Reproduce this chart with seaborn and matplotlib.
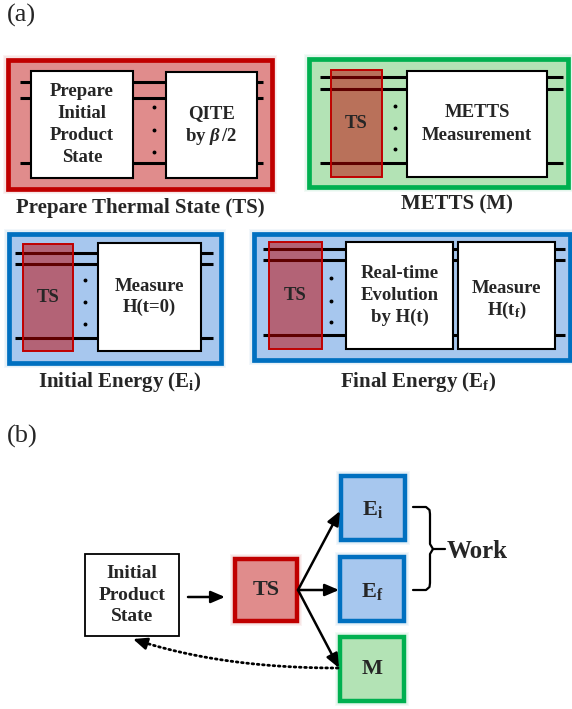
import matplotlib
matplotlib.use("Agg")
import matplotlib.pyplot as plt
import seaborn as sns
import numpy as np
from matplotlib.patches import Rectangle

sns.set_theme(style="white")
plt.rcParams["font.family"] = ["Liberation Serif", "DejaVu Serif"]
plt.rcParams["mathtext.fontset"] = "custom"
plt.rcParams["mathtext.rm"] = "Liberation Serif:bold"
plt.rcParams["mathtext.it"] = "Liberation Serif:bold:italic"
plt.rcParams["mathtext.bf"] = "Liberation Serif:bold"

# ---------------- content ----------------
panel_labels = ["(a)", "(b)"]
panel_a_titles = ["Prepare Thermal State (TS)", "METTS (M)",
                  r"Initial Energy ($\mathrm{E_i}$)", r"Final Energy ($\mathrm{E_f}$)"]
ts_gates = ["Prepare\nInitial\nProduct\nState", "QITE\nby $\\beta\\,/2$"]
metts_gates = ["METTS\nMeasurement"]
ei_gates = ["Measure\nH(t=0)"]
ef_gates = ["Real-time\nEvolution\nby H(t)", r"Measure" + "\n" + r"H(t$_\mathrm{f}$)"]
overlay_label = "TS"
flow_nodes = ["Initial\nProduct\nState", "TS", r"$\mathrm{E_i}$", r"$\mathrm{E_f}$", "M"]
work_label = "Work"

RED_EDGE, RED_FILL = "#C00000", "#E08C8C"
GREEN_EDGE, GREEN_FILL = "#00B050", "#B3E3B5"
BLUE_EDGE, BLUE_FILL = "#0070C0", "#A7C7EE"
OVERLAY_FILL = (0.75, 0.0, 0.0, 0.5)

fig = plt.figure(figsize=(5.72, 7.09), dpi=100)
ax = fig.add_axes([0, 0, 1, 1])
ax.set_xlim(0, 572)
ax.set_ylim(709, 0)
ax.axis("off")


def outer_box(x0, y0, x1, y1, edge, fill, lw=3.4, glow=True):
    if glow:
        for i in range(1, 5):
            ax.add_patch(Rectangle((x0 - 1.2 * i, y0 - 1.2 * i), x1 - x0 + 2.4 * i,
                                   y1 - y0 + 2.4 * i, facecolor=edge, edgecolor="none",
                                   alpha=0.05, zorder=0.5))
    ax.add_patch(Rectangle((x0, y0), x1 - x0, y1 - y0, facecolor=fill,
                           edgecolor=edge, lw=lw, zorder=1))


def wires(x0, x1, ys):
    for y in ys:
        ax.plot([x0, x1], [y, y], color="black", lw=2.2, solid_capstyle="butt", zorder=2)


def dots(x, ys):
    ax.plot([x] * len(ys), ys, "o", ms=1.8, color="black", zorder=2)


def gate(x0, y0, x1, y1, label, fs=13.5, ls=1.2, lw=1.5, dy=0):
    ax.add_patch(Rectangle((x0, y0), x1 - x0, y1 - y0, facecolor="white",
                           edgecolor="black", lw=lw, zorder=3))
    ax.text((x0 + x1) / 2, (y0 + y1) / 2 + dy, label, ha="center", va="center",
            fontsize=fs, fontweight="bold", linespacing=ls, zorder=4)


def overlay(x0, y0, x1, y1):
    ax.add_patch(Rectangle((x0, y0), x1 - x0, y1 - y0, facecolor=OVERLAY_FILL,
                           edgecolor=RED_EDGE, lw=1.4, zorder=5))
    ax.text((x0 + x1) / 2, (y0 + y1) / 2, overlay_label, ha="center", va="center",
            fontsize=13.5, fontweight="bold", zorder=6)


TITLE_FS = 15

# panel labels
ax.text(7, 15, panel_labels[0], fontsize=19, ha="left", va="center")
ax.text(7, 436, panel_labels[1], fontsize=19, ha="left", va="center")

# ---- TS panel ----
outer_box(8, 60, 272, 189, RED_EDGE, RED_FILL)
wires(20, 263, [82, 98, 163])
dots(154, [107, 130, 152])
gate(31, 71, 133, 178, ts_gates[0], ls=1.38)
gate(166, 72, 257, 178, ts_gates[1], ls=1.3, dy=1)
ax.text(140, 208, panel_a_titles[0], ha="center", va="center", fontsize=TITLE_FS, fontweight="bold")

# ---- METTS panel ----
outer_box(309, 59, 568, 187, GREEN_EDGE, GREEN_FILL)
wires(320, 563, [77, 89, 163])
dots(395, [106, 128, 149])
gate(407, 71, 547, 177, metts_gates[0], ls=1.4)
overlay(331, 70, 382, 177)
ax.text(457, 204, panel_a_titles[1], ha="center", va="center", fontsize=TITLE_FS, fontweight="bold")

# ---- Initial energy panel ----
outer_box(9, 234, 221, 363, BLUE_EDGE, BLUE_FILL)
wires(15, 213, [253, 264, 338])
dots(85, [280, 302, 324])
gate(98, 243, 201, 351, ei_gates[0], ls=1.22)
overlay(23, 244, 73, 351)
ax.text(120, 382, panel_a_titles[2], ha="center", va="center", fontsize=TITLE_FS, fontweight="bold")

# ---- Final energy panel ----
outer_box(254, 234, 570, 360, BLUE_EDGE, BLUE_FILL)
wires(263, 565, [249, 260, 335])
dots(331, [278, 301, 322])
gate(346, 242, 453, 349, ef_gates[0], ls=1.4)
gate(458, 242, 555, 349, ef_gates[1], ls=1.25, dy=5)
overlay(269, 242, 322, 349)
ax.text(418, 382, panel_a_titles[3], ha="center", va="center", fontsize=TITLE_FS, fontweight="bold")

# ---------------- panel (b) ----------------
gate(85, 554, 179, 636, flow_nodes[0], fs=14, ls=1.32, lw=1.3)
outer_box(235, 559, 297, 621, RED_EDGE, RED_FILL, lw=3.2)
ax.text(266, 590, flow_nodes[1], ha="center", va="center", fontsize=16, fontweight="bold", zorder=4)
outer_box(341, 476, 405, 540, BLUE_EDGE, BLUE_FILL, lw=3.2)
ax.text(373, 510, flow_nodes[2], ha="center", va="center", fontsize=16, zorder=4)
outer_box(340, 557, 404, 621, BLUE_EDGE, BLUE_FILL, lw=3.2)
ax.text(372, 591, flow_nodes[3], ha="center", va="center", fontsize=16, zorder=4)
outer_box(340, 637, 404, 701, GREEN_EDGE, GREEN_FILL, lw=3.2)
ax.text(372, 669, flow_nodes[4], ha="center", va="center", fontsize=16, fontweight="bold", zorder=4)

arrow_kw = dict(arrowstyle="-|>,head_length=0.7,head_width=0.3", color="black",
                lw=1.8, shrinkA=0, shrinkB=0)
ax.annotate("", xy=(225, 597), xytext=(188, 597), arrowprops=arrow_kw)
for tgt in [(340, 511), (339, 590), (339, 668)]:
    ax.annotate("", xy=tgt, xytext=(298, 590), arrowprops=arrow_kw)

# dotted return path (quadratic Bezier) with a solid arrow head
p0, p1, p2 = np.array([338.0, 668.0]), np.array([220.0, 668.0]), np.array([133.0, 639.0])
t = np.linspace(0, 0.93, 80)[:, None]
curve = (1 - t) ** 2 * p0 + 2 * (1 - t) * t * p1 + t ** 2 * p2
ax.plot(curve[:, 0], curve[:, 1], color="black", lw=2.0, linestyle=(0, (0.6, 1.3)),
        dash_capstyle="round")
tan = (p2 - p1) / np.linalg.norm(p2 - p1)
ax.annotate("", xy=tuple(p2), xytext=tuple(p2 - 11 * tan), arrowprops=arrow_kw)

# brace
ax.plot([413, 426, 429.5, 430, 430, 433, 445], [507, 507, 510, 514, 544, 549, 549],
        color="black", lw=1.6, zorder=3)
ax.plot([413, 426, 429.5, 430, 430, 433], [590, 590, 587, 583, 554, 549],
        color="black", lw=1.6, zorder=3)
ax.text(447, 551, work_label, ha="left", va="center", fontsize=18, fontweight="bold")

fig.savefig("out.png", dpi=100)
